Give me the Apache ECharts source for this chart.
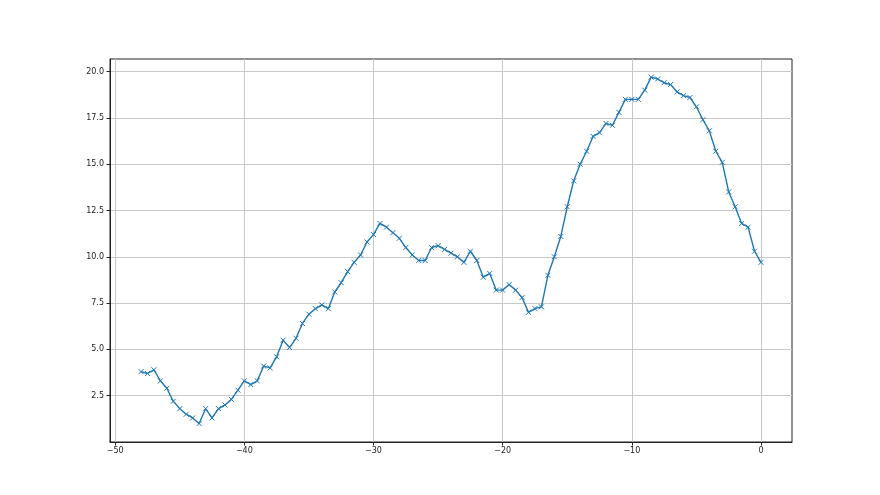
<!DOCTYPE html>
<html><head><meta charset="utf-8">
<script src="https://cdn.jsdelivr.net/npm/echarts@6/dist/echarts.min.js"></script>
<style>html,body{margin:0;padding:0;background:#fff}#c{width:880px;height:495px}</style>
</head><body><div id="c"></div>
<script>
const xValues = [-48,-47.5,-47,-46.5,-46,-45.5,-45,-44.5,-44,-43.5,-43,-42.5,-42,-41.5,-41,-40.5,-40,-39.5,-39,-38.5,
  -38,-37.5,-37,-36.5,-36,-35.5,-35,-34.5,-34,-33.5,-33,-32.5,-32,-31.5,-31,-30.5,-30,-29.5,-29,-28.5,
  -28,-27.5,-27,-26.5,-26,-25.5,-25,-24.5,-24,-23.5,-23,-22.5,-22,-21.5,-21,-20.5,-20,-19.5,-19,-18.5,
  -18,-17.5,-17,-16.5,-16,-15.5,-15,-14.5,-14,-13.5,-13,-12.5,-12,-11.5,-11,-10.5,-10,-9.5,-9,-8.5,
  -8,-7.5,-7,-6.5,-6,-5.5,-5,-4.5,-4,-3.5,-3,-2.5,-2,-1.5,-1,-0.5,0];
const yValues = [3.8,3.7,3.9,3.3,2.9,2.2,1.8,1.5,1.3,1.0,1.8,1.3,1.8,2.0,2.3,2.8,3.3,3.1,3.3,4.1,
  4.0,4.6,5.5,5.1,5.6,6.4,6.9,7.2,7.4,7.2,8.1,8.6,9.2,9.7,10.1,10.8,11.2,11.8,11.6,11.3,
  11.0,10.5,10.1,9.8,9.8,10.5,10.6,10.4,10.2,10.0,9.7,10.3,9.8,8.9,9.1,8.2,8.2,8.5,8.2,7.8,
  7.0,7.2,7.3,9.0,10.0,11.1,12.7,14.1,15.0,15.7,16.5,16.7,17.2,17.1,17.8,18.5,18.5,18.5,19.0,19.7,
  19.6,19.4,19.3,18.9,18.7,18.6,18.1,17.4,16.8,15.7,15.1,13.5,12.7,11.8,11.6,10.3,9.7];
const xTicks = [-50,-40,-30,-20,-10,0];
const yTicks = [2.5,5,7.5,10,12.5,15,17.5,20];

const chart = echarts.init(document.getElementById('c'), null, {renderer:'canvas'});
const fmtX = v => (v < 0 ? '\u2212' + Math.abs(v) : String(v));
const fmtY = v => Number(v).toFixed(1);
const axisFont = {fontFamily:'DejaVu Sans', fontSize:8, color:'#222'};
chart.setOption({
  animation:false,
  backgroundColor:'#fff',
  grid:{left:110, right:88, top:59, bottom:53, show:true, borderColor:'#222', borderWidth:1, backgroundColor:'transparent'},
  xAxis:{
    type:'value', min:-50.4, max:2.4,
    axisLine:{show:true, onZero:false, lineStyle:{color:'#222', width:1}},
    axisTick:{show:true, length:3.5, inside:false, customValues:xTicks, lineStyle:{color:'#222'}},
    axisLabel:Object.assign({customValues:xTicks, margin:5, formatter:fmtX}, axisFont),
    splitLine:{show:true, lineStyle:{color:'#c8c8c8', width:1}}
  },
  yAxis:{
    type:'value', min:0, max:20.68,
    axisLine:{show:true, onZero:false, lineStyle:{color:'#222', width:1}},
    axisTick:{show:true, length:3.5, inside:false, customValues:yTicks, lineStyle:{color:'#222'}},
    axisLabel:Object.assign({customValues:yTicks, margin:6, formatter:fmtY}, axisFont),
    splitLine:{show:true, lineStyle:{color:'#c8c8c8', width:1}}
  },
  series:[{
    type:'line',
    data:xValues.map((x,i)=>[x,yValues[i]]),
    lineStyle:{color:'#1f77b4', width:1.4},
    symbol:'path://M0,0L10,10M10,0L0,10',
    symbolSize:5,
    showAllSymbol:true,
    itemStyle:{color:'#1f77b4', borderColor:'#1f77b4', borderWidth:1},
    clip:false
  }]
});
</script></body></html>
